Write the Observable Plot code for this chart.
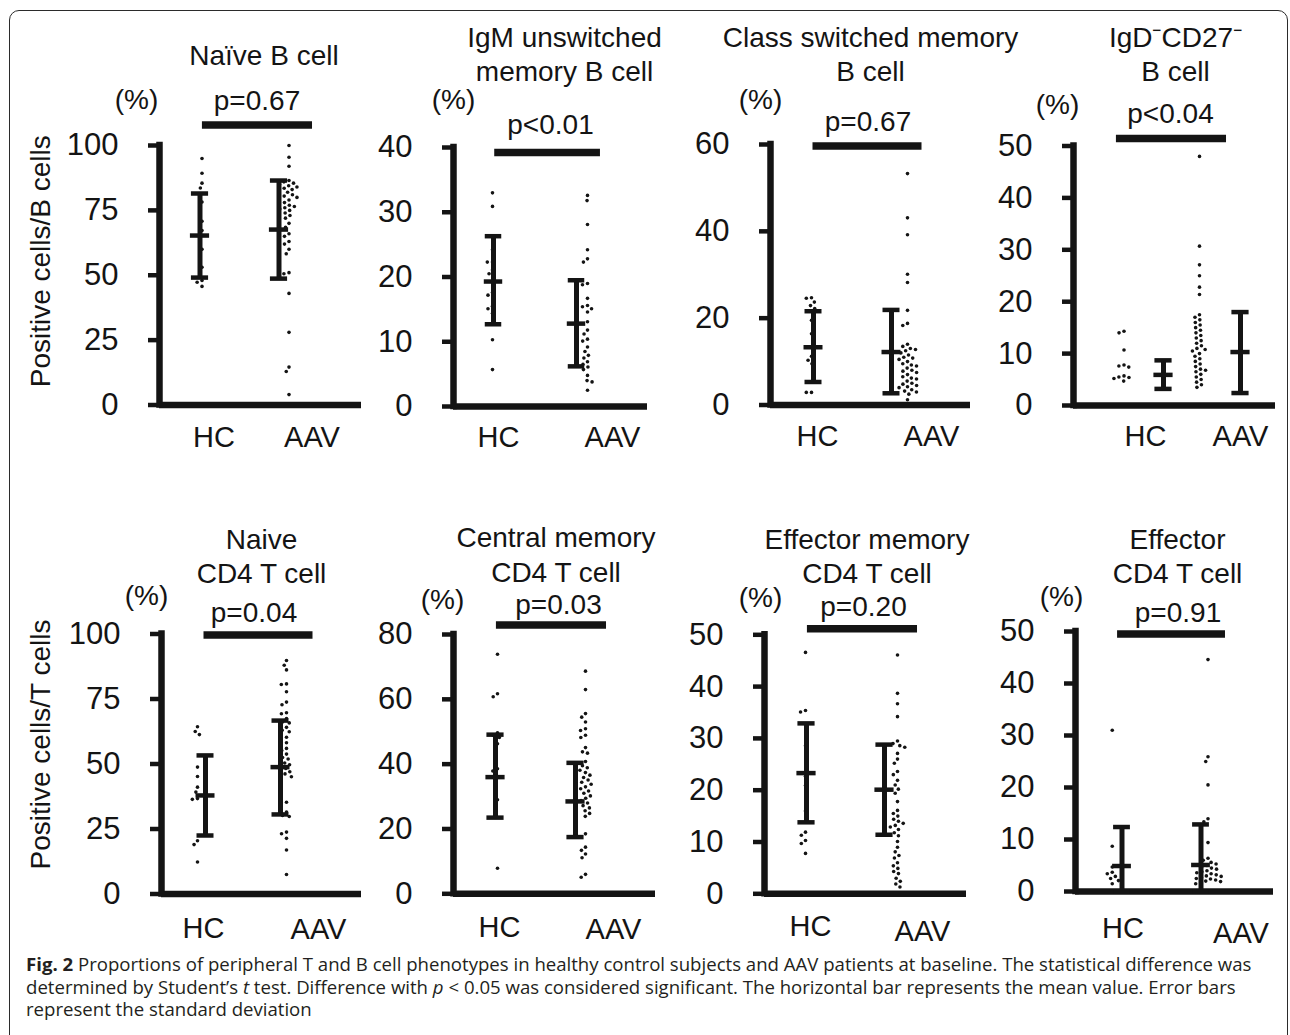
<!DOCTYPE html>
<html><head><meta charset="utf-8">
<script src="https://cdn.jsdelivr.net/npm/d3@7"></script>
<script src="https://cdn.jsdelivr.net/npm/@observablehq/plot@0.6"></script>
<style>
html,body{margin:0;padding:0;background:#fff;}
body{width:1290px;height:1035px;overflow:hidden;position:relative;font-family:"Liberation Sans",Arial,sans-serif;}
#frame{position:absolute;left:9px;top:10px;width:1279px;height:1060px;border:1.6px solid #2b2b2b;border-radius:10px;box-sizing:border-box;}
.panel{position:absolute;}
#caption{position:absolute;left:26px;top:953px;font-family:"Open Sans",sans-serif;font-size:18.6px;line-height:22.5px;color:#231f20;white-space:nowrap;}
#caption b{font-weight:700;}
</style></head><body>
<div id="frame"></div>
<div id="panels"></div>
<div id="caption"><b>Fig. 2</b> Proportions of peripheral T and B cell phenotypes in healthy control subjects and AAV patients at baseline. The statistical difference was<br>determined by Student’s <i>t</i> test. Difference with <i>p</i> &lt; 0.05 was considered significant. The horizontal bar represents the mean value. Error bars<br>represent the standard deviation</div>
<script>
// ---------- DATA ----------
const groups = ["HC", "AAV"];
const titles = ["Naïve B cell", "IgM unswitched\nmemory B cell", "Class switched memory\nB cell", "IgD⁻CD27⁻\nB cell",
                "Naive\nCD4 T cell", "Central memory\nCD4 T cell", "Effector memory\nCD4 T cell", "Effector\nCD4 T cell"];
const pLabels = ["p=0.67", "p<0.01", "p=0.67", "p<0.04", "p=0.04", "p=0.03", "p=0.20", "p=0.91"];
const unitLabel = "(%)";
const yAxisTitles = ["Positive cells/B cells", null, null, null, "Positive cells/T cells", null, null, null];
const yMax = [100, 40, 60, 50, 100, 80, 50, 50];
const yTicks = [[0,25,50,75,100],[0,10,20,30,40],[0,20,40,60],[0,10,20,30,40,50],
                [0,25,50,75,100],[0,20,40,60,80],[0,10,20,30,40,50],[0,10,20,30,40,50]];

const hcValues = [
  [95, 89.3, 85.5, 83.6, 78.2, 70.8, 67.2, 60, 53.1, 48, 47.3, 45.7],
  [33.0, 30.9, 24.2, 22.3, 22.3, 21.1, 20.5, 17.6, 17.2, 15.5, 15.1, 14.4, 10.3, 5.7],
  [24.7, 24.6, 23.7, 22.9, 22.2, 19.5, 16.4, 13.3, 11.2, 10.3, 9.5, 5.3, 2.9, 2.9],
  [14.3, 14.0, 10.7, 7.8, 7.6, 7.4, 5.7, 5.5, 5.4, 5.2, 4.7],
  [64.3, 62.5, 61.3, 48.8, 45.2, 41.1, 39.2, 36.7, 36.4, 20.5, 19, 12.3],
  [73.9, 61.7, 60.8, 49.7, 48.9, 48.2, 46.3, 38.6, 37.9, 29.0, 27.6, 7.9],
  [46.6, 35.4, 35.1, 28.6, 22.7, 20.9, 16.0, 11.9, 11.3, 10.3, 9.7, 7.8],
  [31.0, 8.7, 4.7, 3.7, 3.4, 2.9, 2.5, 2.1, 1.5]
];
const aavValues = [
  [100, 95.5, 92, 86.5, 86, 85.5, 85, 84.5, 84, 83.5, 83, 82, 81, 80.5, 80, 79, 78, 77, 76.5, 76, 75.5, 75, 74, 73, 72, 70, 68.5, 66, 65, 63, 62, 60, 58.3, 51, 50.6, 43, 28, 14.6, 12.9, 4],
  [32.6, 31.8, 28.1, 24.2, 22.8, 22.3, 19.0, 18.8, 16.7, 15.6, 15.4, 15.1, 14.6, 13.1, 11.8, 11.2, 10.4, 10.1, 9.2, 8.5, 7.9, 7.5, 6.9, 6.5, 6.1, 5.7, 4.8, 4.0, 3.8, 2.5],
  [53.3, 43.1, 39.2, 30.1, 28.2, 21.8, 18.8, 18.3, 14, 13.5, 13, 12.8, 12.5, 12, 11.5, 11, 10.8, 10.5, 10, 9.5, 9.2, 9, 8.5, 8, 7.8, 7.5, 7, 6.5, 6.2, 6, 5.5, 5, 4.8, 4.5, 4.2, 4, 3.5, 3.2, 3, 2.5, 1.2],
  [48.0, 30.7, 27.1, 25.0, 22.8, 21.4, 17.5, 17, 16.5, 16, 15.5, 15, 14.5, 14, 13.5, 13, 12.5, 12, 11.5, 11, 10.8, 10.5, 10, 9.5, 9, 8.5, 8, 7.5, 7, 6.8, 6.5, 6, 5.5, 5, 4.5, 4, 3.5],
  [89.8, 88, 86.2, 80.8, 80.6, 77.8, 73.8, 72.8, 69.7, 69.3, 67.5, 66.2, 65.8, 64.1, 63.0, 62.4, 61.0, 60.3, 59.1, 58.2, 57.4, 56.0, 55.2, 53.8, 52.5, 51.9, 50.4, 49.7, 48.3, 47.0, 46.2, 45.1, 35.3, 31.5, 30.2, 29.8, 23.8, 23.2, 21.4, 16.9, 7.5],
  [68.7, 63.0, 55.6, 54.5, 53.0, 50.9, 50.4, 48.9, 48.2, 45.1, 43.8, 43.4, 40.8, 39.5, 38.9, 38.1, 37.4, 36.6, 35.9, 35.1, 34.4, 33.8, 33.0, 32.4, 31.7, 31.0, 30.2, 29.5, 28.8, 28.0, 27.2, 26.5, 25.6, 24.8, 23.9, 18.5, 14.4, 13.4, 12.3, 11.1, 6.0, 5.1],
  [46.1, 38.7, 36.7, 34.2, 29.5, 29.0, 28.6, 28.3, 27.1, 26.0, 25.2, 23.6, 23.0, 21.9, 21.0, 20.2, 19.4, 17.8, 16.1, 15.5, 15.0, 14.4, 14.0, 13.6, 13.2, 12.9, 12.4, 11.8, 11.2, 10.1, 9.0, 8.1, 7.4, 6.9, 6.0, 5.4, 4.9, 4.3, 3.9, 3.0, 2.4, 1.9, 1.3],
  [44.6, 25.9, 25.0, 20.5, 14.0, 13.4, 9.4, 6.4, 6.0, 5.6, 5.3, 5.0, 4.8, 4.5, 4.3, 4.0, 3.8, 3.6, 3.4, 3.2, 3.0, 2.9, 2.7, 2.5, 2.4, 2.2, 2.0, 1.9, 1.7, 1.5]
];
// mean and mean ± SD (lower ends below 0 are hidden by the axis)
const hcMean = [65.3, 19.3, 13.3, 5.9, 37.9, 36.0, 23.3, 4.9];
const hcLow  = [49.1, 12.7, 5.3, 3.2, 22.5, 23.5, 13.8, 0];
const hcHigh = [81.5, 26.3, 21.6, 8.7, 53.3, 49.1, 32.9, 12.4];
const aavMean = [67.6, 12.8, 12.2, 10.3, 48.8, 28.5, 20.1, 5.1];
const aavLow  = [48.7, 6.2, 2.7, 2.4, 30.6, 17.5, 11.4, 0];
const aavHigh = [86.5, 19.5, 21.9, 18.0, 66.7, 40.4, 28.8, 12.9];

// ---------- LAYOUT (pixel frame of each panel and small offsets) ----------
const layout = [
  {A:158,E:361,yT:145,y0:404.5,row:0,dotDx:[-8,-22],barDx:[-10,-32],labDx:[4,1],labDy:[33,33],titleDx:3.5,titleDy:-92,pctDx:-23,pctDy:-45,sigDy:-20.5,pDx:-3.5,pDy:-44,ylDx:-118,ylDy:-14},
  {A:453,E:647,yT:147,y0:406,row:0,dotDx:[-9.5,-11.5],barDx:[-8.5,-22.5],labDx:[-3.5,13.5],labDy:[31.7,31.7],titleDx:14,titleDy:-94.5,pctDx:0,pctDy:-47,sigDy:5,pDx:0,pDy:-22},
  {A:769,E:970,yT:144,y0:404.5,row:0,dotDx:[-9,-13],barDx:[-7,-29],labDx:[-3,11],labDy:[32,32],titleDx:0,titleDy:-91.5,pctDx:-10,pctDy:-44,sigDy:1.5,pDx:-2.5,pDy:-22},
  {A:1073,E:1275,yT:145.5,y0:405,row:0,dotDx:[0,-25.5],barDx:[39.5,15.5],labDx:[21.5,15.5],labDy:[31.5,31.5],titleDx:1,titleDy:-93,pctDx:-16,pctDy:-40.5,sigDy:-7.5,pDx:-4,pDy:-31.5},
  {A:160,E:361,yT:633.5,y0:893.5,row:1,dotDx:[-14,-25],barDx:[-6,-31],labDx:[-8,7],labDy:[35.2,36.2],titleDx:0,titleDy:-79,pctDx:-15,pctDy:-37.5,sigDy:1,pDx:-7.5,pDy:-20.5,ylDx:-120,ylDy:-19.5},
  {A:453,E:655,yT:634,y0:893.3,row:1,dotDx:[-6.5,-19.5],barDx:[-8.5,-29.5],labDx:[-4.5,8.5],labDy:[34.4,36.4],titleDx:1.5,titleDy:-81,pctDx:-11,pctDy:-34.5,sigDy:-9.5,pDx:4,pDy:-29},
  {A:764,E:966,yT:634.3,y0:893.3,row:1,dotDx:[-9.5,-18.5],barDx:[-8.5,-31.5],labDx:[-4.5,6.5],labDy:[33,38],titleDx:1.5,titleDy:-80,pctDx:-4,pctDy:-37,sigDy:-6,pDx:-2,pDy:-27.3},
  {A:1074,E:1273,yT:631,y0:891,row:1,dotDx:[-12.75,-16],barDx:[-3,-23],labDx:[-2,17],labDy:[37.5,42],titleDx:3,titleDy:-76.5,pctDx:-14,pctDy:-34.5,sigDy:2.5,pDx:3.5,pDy:-18}
];

const ink = "#141414";
const font = "'Liberation Sans', Arial, Helvetica, sans-serif";
const capHalf = 0.17, meanHalf = 0.19;

function panel(i) {
  const L = layout[i];
  const top = L.row === 0 ? 15 : 500, bottom = L.row === 0 ? 470 : 955;
  const left = L.A - 140, right = L.E + 22;
  const table = [
    ...hcValues[i].map(v => ({g: "HC", v})),
    ...aavValues[i].map(v => ({g: "AAV", v}))
  ];
  const stats = [
    {g: "HC", mean: hcMean[i], lo: hcLow[i], hi: hcHigh[i]},
    {g: "AAV", mean: aavMean[i], lo: aavLow[i], hi: aavHigh[i]}
  ];
  const txt = {fill: ink, fontFamily: font, textAnchor: "middle", lineAnchor: "middle"};
  const marks = [];
  // x baseline (in both facets) and y axis line (left facet)
  marks.push(Plot.ruleY([0], {stroke: ink, strokeWidth: 6.5}));
  marks.push(Plot.ruleX([{g: "HC"}], {fx: "g", x: -1, y1: 0, y2: yMax[i], stroke: ink, strokeWidth: 6.5, strokeLinecap: "square"}));
  marks.push(Plot.axisY(yTicks[i], {tickSize: 11, tickPadding: 30, stroke: ink, fill: ink, strokeWidth: 4.5, fontSize: 31, fontFamily: font, tickFormat: d => String(d), label: null}));
  groups.forEach((g, k) => {
    const s = stats.filter(d => d.g === g);
    marks.push(Plot.dot(table.filter(d => d.g === g),
      Plot.dodgeX({anchor: "middle", padding: 1.6}, {fx: "g", y: "v", r: 1.8, fill: ink, stroke: "none", dx: L.dotDx[k]})));
    marks.push(Plot.ruleX(s, {fx: "g", x: 0, y1: "lo", y2: "hi", stroke: ink, strokeWidth: 5, dx: L.barDx[k]}));
    marks.push(Plot.ruleY(s, {fx: "g", y: "lo", x1: -capHalf, x2: capHalf, stroke: ink, strokeWidth: 4.5, dx: L.barDx[k]}));
    marks.push(Plot.ruleY(s, {fx: "g", y: "hi", x1: -capHalf, x2: capHalf, stroke: ink, strokeWidth: 4.5, dx: L.barDx[k]}));
    marks.push(Plot.ruleY(s, {fx: "g", y: "mean", x1: -meanHalf, x2: meanHalf, stroke: ink, strokeWidth: 4.5, dx: L.barDx[k]}));
    marks.push(Plot.text([g], {...txt, fx: d => d, text: d => d, frameAnchor: "bottom",
      dx: L.labDx[k], dy: L.labDy[k], fontSize: 29}));
  });
  // significance bar
  marks.push(Plot.ruleY([{g: "HC", y: yMax[i]}], {fx: "g", y: "y", x1: -0.15, x2: 2.03, stroke: ink, strokeWidth: 7.5, dy: L.sigDy}));
  // p label, title, unit
  marks.push(Plot.text([pLabels[i]], {...txt, fx: () => "HC", text: d => d, frameAnchor: "top-right",
    dx: L.pDx, dy: L.pDy, fontSize: 28}));
  marks.push(Plot.text([titles[i]], {...txt, fx: () => "HC", text: d => d, frameAnchor: "top-right",
    lineHeight: 1.23, dx: L.titleDx, dy: L.titleDy, fontSize: 28}));
  marks.push(Plot.text([unitLabel], {...txt, fx: () => "HC", text: d => d, frameAnchor: "top-left",
    dx: L.pctDx, dy: L.pctDy, fontSize: 28}));
  if (yAxisTitles[i]) {
    marks.push(Plot.text([yAxisTitles[i]], {...txt, fx: () => "HC", text: d => d, frameAnchor: "left", rotate: -90,
      dx: L.ylDx, dy: L.ylDy, fontSize: 28}));
  }
  const svg = Plot.plot({
    width: right - left,
    height: bottom - top,
    marginLeft: L.A - left,
    marginRight: right - L.E,
    marginTop: L.yT - top,
    marginBottom: bottom - L.y0,
    fx: {domain: groups, padding: 0, axis: null},
    x: {domain: [-1, 1], axis: null},
    y: {domain: [0, yMax[i]]},
    style: {background: "transparent", overflow: "visible", fontFamily: font, color: ink},
    marks
  });
  const div = document.createElement("div");
  div.className = "panel";
  div.style.left = left + "px";
  div.style.top = top + "px";
  div.style.width = (right - left) + "px";
  div.appendChild(svg);
  document.getElementById("panels").appendChild(div);
}
for (let i = 0; i < 8; i++) panel(i);
</script>
</body></html>
